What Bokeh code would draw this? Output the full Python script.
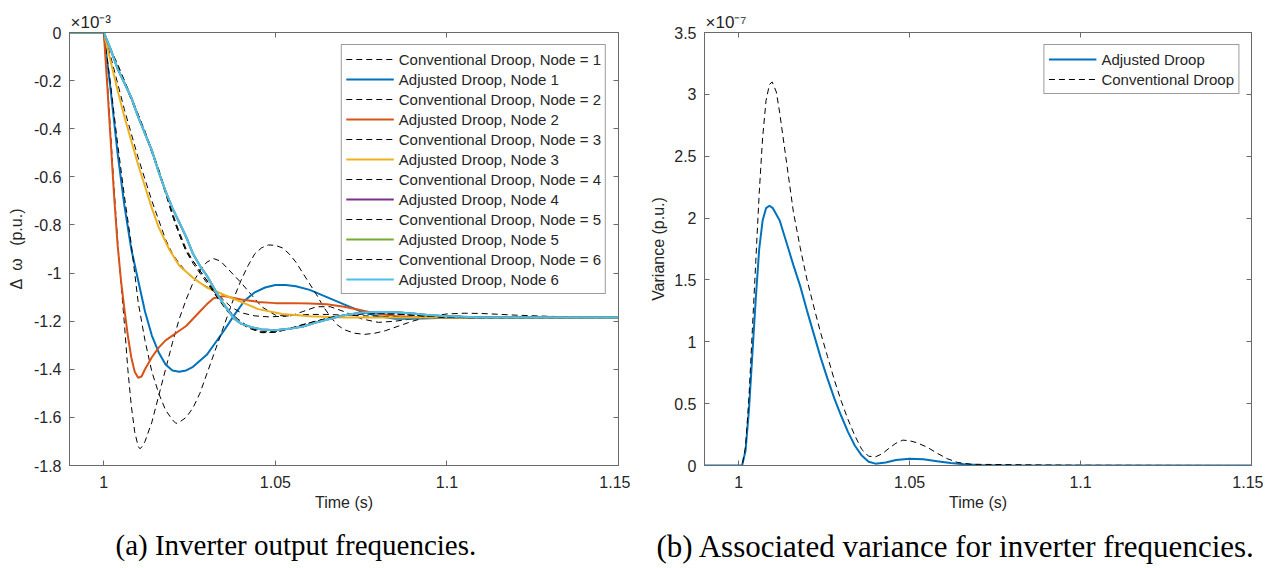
from bokeh.plotting import figure
from bokeh.models import (Range1d, FixedTicker, LinearAxis, Legend, LegendItem,
                          Title, CustomJSTickFormatter)
from bokeh.layouts import row
from bokeh.embed import file_html
from bokeh.resources import INLINE

# ---------------- data: panel (a), values in units of 1e-3 p.u. ----------------
t_conv1 = [0.99, 1.0, 1.001, 1.002, 1.003, 1.004, 1.005, 1.006, 1.007, 1.008, 1.009, 1.010, 1.0105,
           1.011, 1.012, 1.014, 1.016, 1.018, 1.020, 1.022, 1.024, 1.026, 1.028, 1.030, 1.032, 1.034,
           1.036, 1.038, 1.040, 1.043, 1.046, 1.050, 1.054, 1.058, 1.062, 1.066, 1.070, 1.075, 1.080,
           1.085, 1.090, 1.095, 1.10, 1.11, 1.12, 1.15]
v_conv1 = [0, 0, -0.20, -0.42, -0.65, -0.86, -1.04, -1.21, -1.40, -1.55, -1.66, -1.72, -1.73,
           -1.725, -1.70, -1.62, -1.51, -1.40, -1.29, -1.19, -1.11, -1.04, -0.99, -0.955, -0.94, -0.95,
           -0.98, -1.01, -1.04, -1.09, -1.14, -1.175, -1.18, -1.16, -1.14, -1.14, -1.16, -1.19, -1.205,
           -1.20, -1.19, -1.18, -1.178, -1.182, -1.186, -1.185]

t_adj1 = [0.99, 1.0, 1.002, 1.004, 1.006, 1.008, 1.010, 1.012, 1.014, 1.016, 1.018, 1.020, 1.022,
          1.024, 1.026, 1.028, 1.030, 1.032, 1.035, 1.038, 1.041, 1.044, 1.047, 1.050, 1.053, 1.056,
          1.060, 1.065, 1.070, 1.075, 1.080, 1.085, 1.090, 1.095, 1.10, 1.11, 1.15]
v_adj1 = [0, 0, -0.24, -0.50, -0.72, -0.90, -1.03, -1.16, -1.26, -1.33, -1.38, -1.405, -1.41,
          -1.405, -1.39, -1.365, -1.34, -1.30, -1.24, -1.175, -1.115, -1.08, -1.06, -1.05, -1.05, -1.055,
          -1.07, -1.10, -1.13, -1.16, -1.18, -1.19, -1.19, -1.188, -1.186, -1.185, -1.185]

t_conv2 = [0.99, 1.0, 1.002, 1.004, 1.006, 1.008, 1.010, 1.012, 1.014, 1.016, 1.018, 1.020, 1.021,
           1.022, 1.024, 1.026, 1.028, 1.030, 1.032, 1.034, 1.036, 1.038, 1.040, 1.042, 1.044, 1.046,
           1.048, 1.050, 1.052, 1.054, 1.056, 1.058, 1.060, 1.062, 1.064, 1.066, 1.068, 1.070, 1.073,
           1.076, 1.079, 1.082, 1.086, 1.090, 1.095, 1.10, 1.105, 1.11, 1.12, 1.13, 1.14, 1.15]
v_conv2 = [0, 0, -0.22, -0.46, -0.68, -0.88, -1.12, -1.28, -1.41, -1.50, -1.57, -1.61, -1.625,
           -1.62, -1.60, -1.56, -1.50, -1.42, -1.34, -1.26, -1.18, -1.10, -1.03, -0.97, -0.92, -0.895,
           -0.883, -0.885, -0.895, -0.92, -0.955, -1.00, -1.045, -1.09, -1.14, -1.18, -1.215, -1.235, -1.25,
           -1.255, -1.25, -1.24, -1.22, -1.20, -1.18, -1.17, -1.167, -1.168, -1.175, -1.18, -1.183, -1.185]

t_adj2 = [0.99, 1.0, 1.001, 1.002, 1.003, 1.004, 1.005, 1.006, 1.007, 1.008, 1.009, 1.010, 1.011,
          1.012, 1.014, 1.016, 1.018, 1.020, 1.022, 1.024, 1.026, 1.028, 1.030, 1.032, 1.035, 1.040,
          1.045, 1.050, 1.055, 1.060, 1.065, 1.070, 1.075, 1.080, 1.085, 1.090, 1.10, 1.15]
v_adj2 = [0, 0, -0.22, -0.45, -0.68, -0.88, -1.03, -1.15, -1.26, -1.35, -1.41, -1.435, -1.43,
          -1.40, -1.35, -1.31, -1.28, -1.26, -1.24, -1.22, -1.19, -1.16, -1.13, -1.105, -1.095, -1.11,
          -1.12, -1.125, -1.125, -1.127, -1.13, -1.14, -1.155, -1.17, -1.178, -1.183, -1.185, -1.185]

t_conv3 = [0.99, 1.0, 1.002, 1.004, 1.006, 1.008, 1.010, 1.012, 1.014, 1.016, 1.018, 1.020, 1.022,
           1.025, 1.028, 1.031, 1.034, 1.037, 1.040, 1.044, 1.048, 1.052, 1.056, 1.060, 1.065, 1.070,
           1.080, 1.090, 1.10, 1.15]
v_conv3 = [0, 0, -0.10, -0.21, -0.32, -0.42, -0.52, -0.61, -0.70, -0.78, -0.86, -0.92, -0.96,
           -1.01, -1.04, -1.065, -1.10, -1.14, -1.165, -1.178, -1.182, -1.18, -1.175, -1.172, -1.172, -1.175,
           -1.18, -1.185, -1.186, -1.185]

t_adj3 = [0.99, 1.0, 1.002, 1.004, 1.006, 1.008, 1.010, 1.012, 1.014, 1.016, 1.019, 1.022, 1.026,
          1.030, 1.035, 1.040, 1.045, 1.052, 1.060, 1.070, 1.080, 1.10, 1.15]
v_adj3 = [0, 0, -0.12, -0.24, -0.35, -0.45, -0.55, -0.64, -0.73, -0.81, -0.90, -0.97, -1.02,
          -1.06, -1.09, -1.12, -1.15, -1.17, -1.18, -1.185, -1.185, -1.185, -1.185]

t_conv4 = [0.99, 1.0, 1.002, 1.004, 1.006, 1.008, 1.010, 1.012, 1.014, 1.016, 1.018, 1.020, 1.022,
           1.024, 1.026, 1.028, 1.030, 1.033, 1.036, 1.039, 1.042, 1.046, 1.050, 1.054, 1.058, 1.062,
           1.066, 1.070, 1.075, 1.080, 1.085, 1.090, 1.095, 1.10, 1.11, 1.15]
v_conv4 = [0, 0, -0.07, -0.14, -0.20, -0.27, -0.34, -0.42, -0.49, -0.57, -0.66, -0.76, -0.84,
           -0.91, -0.95, -0.99, -1.03, -1.10, -1.155, -1.196, -1.225, -1.246, -1.245, -1.232, -1.215, -1.20,
           -1.185, -1.175, -1.17, -1.168, -1.17, -1.175, -1.18, -1.184, -1.186, -1.185]
v_conv5 = [0, 0, -0.07, -0.14, -0.21, -0.28, -0.35, -0.42, -0.50, -0.58, -0.67, -0.76, -0.84,
           -0.91, -0.96, -1.00, -1.04, -1.10, -1.16, -1.20, -1.228, -1.248, -1.246, -1.233, -1.216, -1.20,
           -1.186, -1.176, -1.17, -1.168, -1.17, -1.175, -1.18, -1.184, -1.186, -1.185]
v_conv6 = [0, 0, -0.07, -0.13, -0.20, -0.27, -0.34, -0.41, -0.49, -0.57, -0.66, -0.75, -0.83,
           -0.90, -0.95, -0.99, -1.03, -1.09, -1.15, -1.19, -1.222, -1.244, -1.244, -1.231, -1.214, -1.199,
           -1.185, -1.175, -1.169, -1.168, -1.17, -1.175, -1.18, -1.184, -1.186, -1.185]

t_adj6 = [0.99, 1.0, 1.002, 1.004, 1.006, 1.008, 1.010, 1.012, 1.014, 1.016, 1.018, 1.020, 1.022,
          1.024, 1.026, 1.028, 1.030, 1.032, 1.034, 1.036, 1.038, 1.040, 1.043, 1.046, 1.050, 1.054,
          1.058, 1.062, 1.066, 1.070, 1.075, 1.080, 1.085, 1.090, 1.095, 1.10, 1.11, 1.15]
v_adj6 = [0, 0, -0.07, -0.15, -0.21, -0.27, -0.35, -0.42, -0.49, -0.58, -0.66, -0.73, -0.79,
          -0.85, -0.92, -0.97, -1.01, -1.06, -1.11, -1.15, -1.19, -1.21, -1.225, -1.235, -1.238, -1.232,
          -1.222, -1.205, -1.19, -1.175, -1.165, -1.162, -1.163, -1.168, -1.175, -1.18, -1.185, -1.185]
v_adj4 = [0, 0, -0.07, -0.15, -0.21, -0.27, -0.35, -0.42, -0.49, -0.58, -0.66, -0.73, -0.79,
          -0.85, -0.92, -0.97, -1.01, -1.06, -1.11, -1.15, -1.19, -1.21, -1.225, -1.235, -1.238, -1.232,
          -1.222, -1.205, -1.19, -1.175, -1.165, -1.162, -1.163, -1.168, -1.175, -1.18, -1.185, -1.185]
v_adj5 = [0, 0, -0.07, -0.15, -0.21, -0.27, -0.35, -0.42, -0.49, -0.58, -0.66, -0.73, -0.79,
          -0.85, -0.92, -0.97, -1.01, -1.06, -1.11, -1.15, -1.19, -1.21, -1.225, -1.235, -1.238, -1.232,
          -1.222, -1.205, -1.19, -1.175, -1.165, -1.162, -1.163, -1.168, -1.175, -1.18, -1.185, -1.185]

# ---------------- data: panel (b), values in units of 1e-7 ----------------
t_var_adj = [0.99, 1.0, 1.001, 1.002, 1.003, 1.004, 1.005, 1.006, 1.007, 1.008, 1.009, 1.010, 1.012,
             1.014, 1.016, 1.018, 1.020, 1.022, 1.024, 1.026, 1.028, 1.030, 1.032, 1.034, 1.036, 1.038,
             1.040, 1.043, 1.046, 1.050, 1.054, 1.058, 1.062, 1.066, 1.070, 1.080, 1.15]
v_var_adj = [0, 0, 0.0, 0.12, 0.45, 0.90, 1.35, 1.75, 1.98, 2.08, 2.10, 2.08, 1.98,
             1.80, 1.62, 1.45, 1.25, 1.06, 0.87, 0.70, 0.54, 0.40, 0.27, 0.16, 0.08, 0.03,
             0.015, 0.025, 0.045, 0.055, 0.05, 0.035, 0.02, 0.01, 0.004, 0.0, 0.0]
t_var_conv = [0.99, 1.0, 1.001, 1.002, 1.003, 1.004, 1.005, 1.006, 1.007, 1.008, 1.009, 1.0098, 1.011,
              1.012, 1.014, 1.016, 1.018, 1.020, 1.022, 1.024, 1.026, 1.028, 1.030, 1.032, 1.034, 1.036,
              1.038, 1.040, 1.042, 1.044, 1.046, 1.048, 1.050, 1.052, 1.055, 1.058, 1.061, 1.064, 1.068,
              1.075, 1.09, 1.10, 1.15]
v_var_conv = [0, 0, 0.0, 0.15, 0.55, 1.10, 1.65, 2.20, 2.65, 2.95, 3.08, 3.10, 3.02,
              2.85, 2.45, 2.05, 1.76, 1.50, 1.28, 1.07, 0.88, 0.69, 0.52, 0.37, 0.24, 0.13,
              0.075, 0.07, 0.095, 0.14, 0.18, 0.205, 0.20, 0.185, 0.15, 0.10, 0.055, 0.025, 0.01,
              0.008, 0.004, 0.002, 0.0]

x_ticks = [1.0, 1.05, 1.1, 1.15]
x_tick_labels = ["1", "1.05", "1.1", "1.15"]
ya_ticks = [0, -0.2, -0.4, -0.6, -0.8, -1.0, -1.2, -1.4, -1.6, -1.8]
ya_tick_labels = ["0", "-0.2", "-0.4", "-0.6", "-0.8", "-1", "-1.2", "-1.4", "-1.6", "-1.8"]
yb_ticks = [0, 0.5, 1.0, 1.5, 2.0, 2.5, 3.0, 3.5]
yb_tick_labels = ["0", "0.5", "1", "1.5", "2", "2.5", "3", "3.5"]

C_BLUE, C_ORANGE, C_YELLOW = "#0072BD", "#D95319", "#EDB120"
C_PURPLE, C_GREEN, C_CYAN = "#7E2F8E", "#77AC30", "#4DBEEE"

FONT = "Liberation Sans"
TXT = "#262626"
AX = "#6a6a6a"
FS = "16px"
LFS = "15px"


def style_axis(ax, ticks, labels, show_labels=True):
    ax.ticker = FixedTicker(ticks=ticks)
    ax.major_tick_in = 5
    ax.major_tick_out = 0
    ax.minor_tick_line_color = None
    ax.axis_line_color = AX
    ax.major_tick_line_color = AX
    ax.major_label_text_font = FONT
    ax.major_label_text_font_size = FS
    ax.major_label_text_color = TXT
    ax.axis_label_text_font = FONT
    ax.axis_label_text_font_size = FS
    ax.axis_label_text_font_style = "normal"
    ax.axis_label_text_color = TXT
    if show_labels:
        ax.major_label_overrides = {tk: lb for tk, lb in zip(ticks, labels)}
        ax.major_label_standoff = 8
    else:
        ax.formatter = CustomJSTickFormatter(code="return ''")
        ax.major_label_standoff = 0


def make_fig(y0, y1, yticks, ylabels, ylabel, ylab_standoff, caption, cap_offset, cap_size,
             expo, bl, fw):
    p = figure(frame_width=fw, frame_height=433, x_range=Range1d(0.99, 1.15),
               y_range=Range1d(y0, y1), output_backend="svg", toolbar_location=None,
               min_border_left=bl, min_border_right=12, min_border_top=32,
               min_border_bottom=100, title=caption, title_location="below")
    p.grid.visible = False
    p.outline_line_color = AX
    p.background_fill_color = "white"
    p.border_fill_color = "white"
    style_axis(p.xaxis[0], x_ticks, x_tick_labels)
    p.xaxis[0].axis_label = "Time (s)"
    p.xaxis[0].major_label_standoff = 10
    p.xaxis[0].axis_label_standoff = 3
    style_axis(p.yaxis[0], yticks, ylabels)
    p.yaxis[0].axis_label = ylabel
    p.yaxis[0].axis_label_standoff = ylab_standoff
    top = LinearAxis()
    style_axis(top, x_ticks, x_tick_labels, show_labels=False)
    p.add_layout(top, "above")
    right = LinearAxis()
    style_axis(right, yticks, ylabels, show_labels=False)
    p.add_layout(right, "right")
    ex = Title(text=expo, align="left", offset=1, standoff=1, text_font=FONT,
               text_font_size="17px", text_font_style="normal", text_color=TXT)
    p.add_layout(ex, "above")
    p.title.text_font = "Liberation Serif"
    p.title.text_font_size = cap_size
    p.title.text_font_style = "normal"
    p.title.text_color = "black"
    p.title.align = "left"
    p.title.offset = cap_offset
    p.title.standoff = 26
    return p


def style_legend(lg):
    lg.location = "top_right"
    lg.margin = 12
    lg.padding = 4
    lg.spacing = 0
    lg.label_height = 20
    lg.glyph_height = 20
    lg.glyph_width = 48
    lg.label_standoff = 5
    lg.label_text_font = FONT
    lg.label_text_font_size = LFS
    lg.label_text_color = TXT
    lg.border_line_color = "#3a3a3a"
    lg.border_line_width = 1
    lg.background_fill_alpha = 1.0


# ---------------- panel (a) ----------------
pa = make_fig(-1.8, 0.0, ya_ticks, ya_tick_labels, "Δ\u2002ω \u2002(p.u.)", 6,
              "(a) Inverter output frequencies.", 46, "29px", "×10\u207b\u00b3", 69, 549)

series_a = [
    ("Conventional Droop, Node = 1", t_conv1, v_conv1, "black", True),
    ("Adjusted Droop, Node 1", t_adj1, v_adj1, C_BLUE, False),
    ("Conventional Droop, Node = 2", t_conv2, v_conv2, "black", True),
    ("Adjusted Droop, Node 2", t_adj2, v_adj2, C_ORANGE, False),
    ("Conventional Droop, Node = 3", t_conv3, v_conv3, "black", True),
    ("Adjusted Droop, Node 3", t_adj3, v_adj3, C_YELLOW, False),
    ("Conventional Droop, Node = 4", t_conv4, v_conv4, "black", True),
    ("Adjusted Droop, Node 4", t_adj6, v_adj4, C_PURPLE, False),
    ("Conventional Droop, Node = 5", t_conv4, v_conv5, "black", True),
    ("Adjusted Droop, Node 5", t_adj6, v_adj5, C_GREEN, False),
    ("Conventional Droop, Node = 6", t_conv4, v_conv6, "black", True),
    ("Adjusted Droop, Node 6", t_adj6, v_adj6, C_CYAN, False),
]
items_a = []
for name, tt, vv, col, dashed in series_a:
    if dashed:
        r = pa.line(tt, vv, line_color=col, line_width=1, line_dash="6 4")
    else:
        r = pa.line(tt, vv, line_color=col, line_width=2)
    items_a.append(LegendItem(label=name, renderers=[r]))

leg_a = Legend(items=items_a)
style_legend(leg_a)
pa.add_layout(leg_a, "center")

# ---------------- panel (b) ----------------
pb = make_fig(0.0, 3.5, yb_ticks, yb_tick_labels, "Variance (p.u.)", 4,
              "(b) Associated variance for inverter frequencies.", -48, "31px",
              "×10\u207b\u2077", 74, 547)
r_adj = pb.line(t_var_adj, v_var_adj, line_color=C_BLUE, line_width=2)
r_conv = pb.line(t_var_conv, v_var_conv, line_color="black", line_width=1, line_dash="6 4")
leg_b = Legend(items=[LegendItem(label="Adjusted Droop", renderers=[r_adj]),
                      LegendItem(label="Conventional Droop", renderers=[r_conv])])
style_legend(leg_b)
pb.add_layout(leg_b, "center")

layout = row(pa, pb)
open("out.html", "w").write(file_html(layout, INLINE))
